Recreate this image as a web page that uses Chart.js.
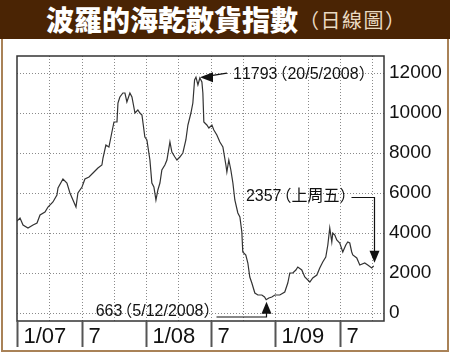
<!DOCTYPE html>
<html>
<head>
<meta charset="utf-8">
<script src="https://cdn.jsdelivr.net/npm/chart.js@4"></script>
<style>
  html, body { margin: 0; padding: 0; background: #fff; }
  #wrap { position: relative; width: 450px; height: 353px; overflow: hidden; }
  #frame { position: absolute; left: 1px; top: 30px; width: 444px; height: 318px; border: 2px solid #a98257; }
  #title { position: absolute; left: 0; top: 0; width: 450px; height: 39px; background: #4a2404; }
  #title .main { position: absolute; left: 46px; top: 2px; font: 900 28px "Noto Sans CJK TC", sans-serif; color: #fff; line-height: 34px; white-space: nowrap; }
  #title .sub { position: absolute; left: 309px; top: 6px; font: 400 20px "Noto Sans CJK TC", sans-serif; color: #eadac2; line-height: 28px; white-space: nowrap; font-feature-settings: "halt"; letter-spacing: 1.5px; }
  canvas { position: absolute; left: 0; top: 0; }
</style>
</head>
<body>
<div id="wrap">
  <div id="frame"></div>
  <div id="title"><span class="main">波羅的海乾散貨指數</span><span class="sub">（日線圖）</span></div>
  <canvas id="bdi" width="450" height="353"></canvas>
</div>
<script>
// months since Jan 2007
const months = [
  0.00,0.28,0.56,1.02,1.49,1.86,2.14,2.60,2.88,3.34,
  3.71,3.81,4.27,4.64,4.92,5.20,5.48,5.66,6.04,6.31,
  6.69,7.06,7.52,7.89,7.99,8.26,8.54,8.82,9.01,9.29,
  9.38,9.56,9.84,10.03,10.21,10.49,10.68,10.96,11.23,11.42,
  11.61,11.88,12.07,12.35,12.53,12.72,12.91,13.09,13.28,13.46,
  13.74,13.93,14.21,14.39,14.67,14.86,15.13,15.41,15.69,15.88,
  16.16,16.34,16.50,16.63,16.81,16.99,17.18,17.27,17.36,17.64,
  17.83,18.11,18.29,18.57,18.85,19.13,19.41,19.50,19.68,19.87,
  20.06,20.24,20.52,20.71,20.89,20.98,21.26,21.45,21.63,21.82,
  22.10,22.38,22.75,23.00,23.15,23.40,23.68,23.96,24.42,24.88,
  25.16,25.35,25.63,25.91,26.09,26.46,26.74,27.21,27.48,27.86,
  28.13,28.41,28.69,28.88,29.06,29.25,29.34,29.53,29.71,29.99,
  30.27,30.55,30.73,30.92,31.10,31.20,31.57,31.85,32.31,32.59,
  32.96,33.15
];
const bdi = [
  4600,4750,4400,4250,4400,4500,4900,5050,5300,5550,
  5900,6250,6700,6500,6000,5650,5300,6000,6300,6700,
  6800,7000,7250,7400,7750,8400,8300,9050,9550,9550,
  10500,10800,11000,11000,10550,11000,10800,10000,10150,10000,
  9900,8800,8650,7650,6500,6300,5650,6150,6500,7150,
  7400,7650,8550,8050,7800,7650,7800,8000,8650,9400,
  10000,10500,11650,11793,11400,11750,11550,11000,9550,9400,
  9250,9400,9150,8900,8550,8300,7400,7050,7650,7150,
  6500,5650,5000,4800,4050,3050,2900,2500,1800,1500,
  1000,900,900,800,663,750,800,900,900,1050,
  1500,2000,2000,2150,2300,2150,1800,1550,1750,1900,
  2250,2550,2800,3400,4250,3550,4000,3900,3650,3500,
  3050,3400,3550,3500,3050,2900,2750,2400,2500,2400,
  2250,2357
];

const yTicks = [0, 2000, 4000, 6000, 8000, 10000, 12000];
const gridMonths = [3, 6, 9, 12, 15, 18, 21, 24, 27, 30, 33];
const labelMonths = [0, 6, 12, 18, 24, 30];
const xLabels = ['1/07', '7', '1/08', '7', '1/09', '7'];

const noteMonths = [16.63, 23.15, 33.15];
const noteValues = [11793, 663, 2357];
const noteTexts = ['11793（20/5/2008）', '663（5/12/2008）', '2357（上周五）'];

const LINE = '#333';
const NOTE_SIZE = 16;
const NOTE_FONT = NOTE_SIZE + 'px "Liberation Sans", Arial, "Noto Sans CJK TC", sans-serif';
const PAREN_GAP = 2;

// full-width brackets drawn narrower, like the print original
function noteWidth(ctx, text) {
  let w = 0;
  for (const ch of text) {
    w += (ch === '（' || ch === '）') ? NOTE_SIZE * 0.5 + PAREN_GAP : ctx.measureText(ch).width;
  }
  return w;
}
function drawNote(ctx, text, x, y, align) {
  let cx = align === 'right' ? x - noteWidth(ctx, text) : x;
  ctx.textAlign = 'left';
  ctx.textBaseline = 'middle';
  for (const ch of text) {
    if (ch === '（') {
      ctx.fillText(ch, cx - NOTE_SIZE * 0.5 + PAREN_GAP, y);
      cx += NOTE_SIZE * 0.5 + PAREN_GAP;
    } else if (ch === '）') {
      ctx.fillText(ch, cx, y);
      cx += NOTE_SIZE * 0.5 + PAREN_GAP;
    } else {
      ctx.fillText(ch, cx, y);
      cx += ctx.measureText(ch).width;
    }
  }
}

function arrowHead(ctx, x, y, dir) {
  ctx.beginPath();
  if (dir === 'left') {
    ctx.moveTo(x, y); ctx.lineTo(x + 13, y - 5); ctx.lineTo(x + 13, y + 5);
  } else if (dir === 'up') {
    ctx.moveTo(x, y); ctx.lineTo(x - 5, y + 12); ctx.lineTo(x + 5, y + 12);
  } else {
    ctx.moveTo(x, y); ctx.lineTo(x - 5, y - 12); ctx.lineTo(x + 5, y - 12);
  }
  ctx.closePath();
  ctx.fill();
}

const dottedGrid = {
  id: 'dottedGrid',
  beforeDatasetsDraw(chart) {
    const ctx = chart.ctx;
    const a = chart.chartArea;
    const xs = chart.scales.x, ys = chart.scales.y;
    ctx.save();
    ctx.strokeStyle = '#8a8a8a';
    ctx.lineWidth = 1;
    ctx.setLineDash([1, 2]);
    gridMonths.forEach(m => {
      const x = Math.round(xs.getPixelForValue(m)) + 0.5;
      ctx.beginPath();
      ctx.moveTo(x, a.top);
      ctx.lineTo(x, a.bottom);
      ctx.stroke();
    });
    yTicks.forEach(v => {
      const y = Math.round(ys.getPixelForValue(v)) + 0.5;
      ctx.beginPath();
      ctx.moveTo(a.left, y);
      ctx.lineTo(a.right, y);
      ctx.stroke();
    });
    ctx.restore();
  }
};

const extras = {
  id: 'extras',
  afterDraw(chart) {
    const ctx = chart.ctx;
    const a = chart.chartArea;
    const xs = chart.scales.x, ys = chart.scales.y;
    ctx.save();

    // plot frame
    ctx.strokeStyle = LINE;
    ctx.lineWidth = 1.5;
    ctx.strokeRect(a.left, a.top, a.right - a.left, a.bottom - a.top);

    // bottom label band
    ctx.lineWidth = 2;
    ctx.strokeStyle = '#555';
    ctx.fillStyle = '#111';
    ctx.font = '22px "Liberation Sans", Arial, sans-serif';
    ctx.textAlign = 'left';
    ctx.textBaseline = 'middle';
    labelMonths.forEach((m, i) => {
      const x = Math.round(xs.getPixelForValue(m)) + 0.5;
      ctx.beginPath();
      ctx.moveTo(x, a.bottom);
      ctx.lineTo(x, a.bottom + 26);
      ctx.stroke();
      ctx.fillText(xLabels[i], x + 6, a.bottom + 16);
    });

    // annotations
    ctx.strokeStyle = '#111';
    ctx.fillStyle = '#111';
    ctx.lineWidth = 1.2;
    ctx.font = NOTE_FONT;
    const pts = noteMonths.map((m, i) => ({ x: xs.getPixelForValue(m), y: ys.getPixelForValue(noteValues[i]) }));

    // peak
    let p = pts[0];
    ctx.beginPath();
    ctx.moveTo(p.x + 12, p.y - 1);
    ctx.lineTo(p.x + 31, p.y - 4);
    ctx.stroke();
    arrowHead(ctx, p.x + 4, p.y, 'left');
    drawNote(ctx, noteTexts[0], p.x + 37, p.y - 3, 'left');

    // low
    p = pts[1];
    const bx = Math.round(p.x) + 0.5;
    ctx.beginPath();
    ctx.moveTo(bx, p.y + 12);
    ctx.lineTo(bx, a.bottom - 4);
    ctx.lineTo(bx - 50, a.bottom - 4);
    ctx.stroke();
    arrowHead(ctx, bx, p.y + 2, 'up');
    drawNote(ctx, noteTexts[1], bx - 53, a.bottom - 9, 'right');

    // latest
    p = pts[2];
    const cx = Math.round(p.x) + 0.5;
    const ty = ys.getPixelForValue(6000) + 4.5;
    ctx.beginPath();
    ctx.moveTo(cx, p.y - 12);
    ctx.lineTo(cx, ty);
    ctx.lineTo(cx - 23, ty);
    ctx.stroke();
    arrowHead(ctx, cx, p.y - 3, 'down');
    drawNote(ctx, noteTexts[2], cx - 25, ty - 1, 'right');

    ctx.restore();
  }
};

new Chart(document.getElementById('bdi'), {
  type: 'line',
  data: {
    datasets: [{
      data: months.map((m, i) => ({ x: m, y: bdi[i] })),
      borderColor: LINE,
      borderWidth: 1.2,
      pointRadius: 0,
      tension: 0,
      fill: false
    }]
  },
  options: {
    responsive: false,
    animation: false,
    events: [],
    layout: { padding: { left: 17, top: 56, right: 0, bottom: 0 } },
    plugins: { legend: { display: false }, tooltip: { enabled: false } },
    scales: {
      x: {
        type: 'linear',
        min: 0,
        max: 34.1,
        afterBuildTicks: s => { s.ticks = gridMonths.map(v => ({ value: v })); },
        afterFit: s => { s.height = 32; },
        ticks: { display: false },
        grid: { display: false },
        border: { display: false }
      },
      y: {
        position: 'right',
        min: -400,
        max: 12850,
        afterBuildTicks: s => { s.ticks = yTicks.map(v => ({ value: v })); },
        afterFit: s => { s.width = 66; },
        ticks: {
          padding: 5,
          color: '#111',
          font: { family: '"Liberation Sans", Arial, sans-serif', size: 19 },
          callback: v => String(v)
        },
        grid: { display: false, drawTicks: false },
        border: { display: false }
      }
    }
  },
  plugins: [dottedGrid, extras]
});
</script>
</body>
</html>
